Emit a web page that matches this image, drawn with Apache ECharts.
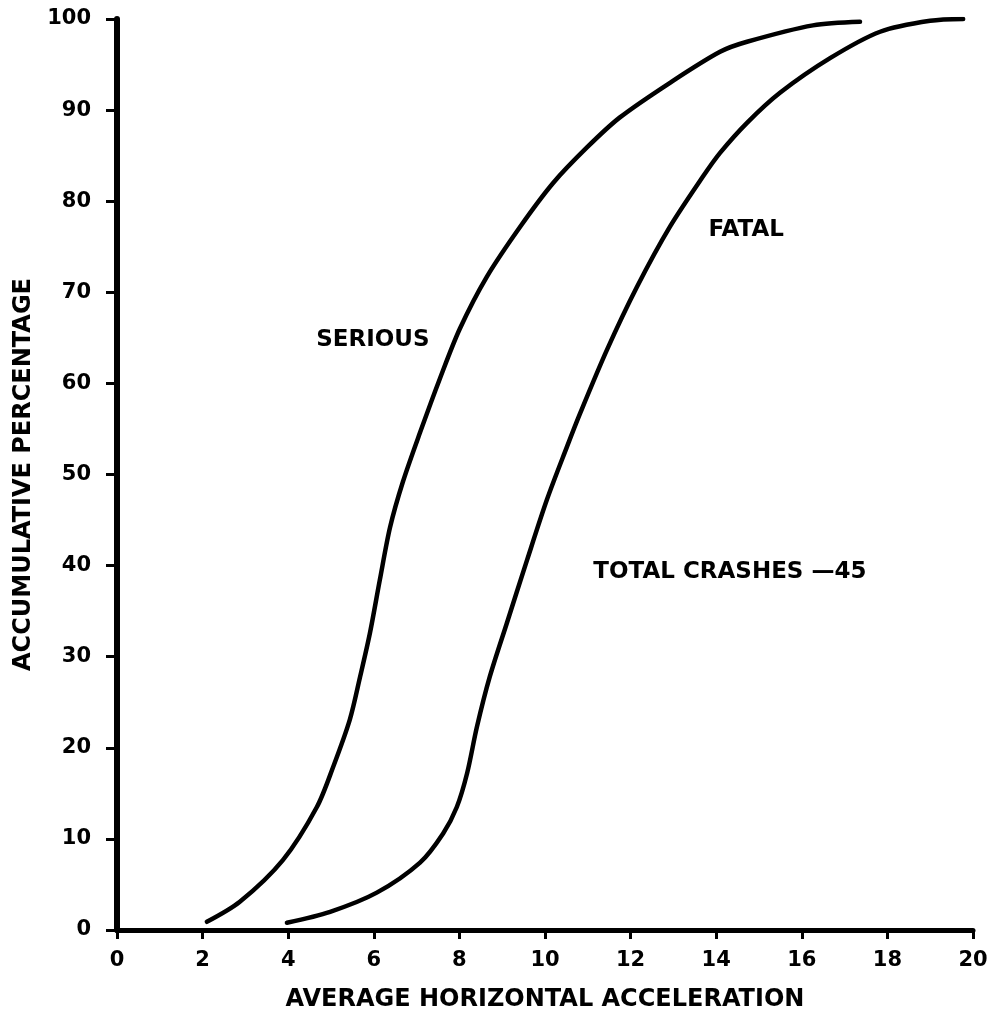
<!DOCTYPE html>
<html>
<head>
<meta charset="utf-8">
<script src="https://cdn.jsdelivr.net/npm/echarts@6/dist/echarts.min.js"></script>
<style>
html,body{margin:0;padding:0;background:#fff;}
#chart{width:995px;height:1027px;}
</style>
</head>
<body>
<div id="chart"></div>
<script>
// Data
const xTicks = [0, 2, 4, 6, 8, 10, 12, 14, 16, 18, 20];
const yTicks = [0, 10, 20, 30, 40, 50, 60, 70, 80, 90, 100];

const seriousX = [2.10, 2.87, 3.88, 4.67, 5.05, 5.44, 5.68, 5.91, 6.14, 6.38, 6.68, 7.08, 7.55, 8.01, 8.64, 9.42, 10.19, 10.98, 11.75, 12.92, 14.09, 14.72, 16.26, 17.36];
const seriousY = [0.9, 3.1, 7.7, 13.5, 17.9, 23.1, 27.8, 32.6, 38.4, 44.2, 49.2, 54.6, 60.6, 66.0, 71.7, 77.2, 82.0, 85.9, 89.2, 93.0, 96.4, 97.5, 99.3, 99.7];

const fatalX = [3.97, 4.98, 6.07, 7.08, 7.62, 7.94, 8.18, 8.41, 8.71, 9.11, 9.58, 10.05, 10.51, 10.82, 11.45, 12.15, 12.92, 13.69, 14.09, 14.72, 15.49, 16.66, 17.83, 19.0, 19.77];
const fatalY = [0.8, 2.0, 4.1, 7.4, 10.6, 13.5, 17.2, 22.3, 27.8, 33.7, 40.6, 47.3, 53.0, 56.7, 63.7, 70.6, 77.2, 82.7, 85.3, 88.6, 91.9, 95.7, 98.6, 99.8, 100];

const noteText = ['SERIOUS', 'FATAL', 'TOTAL CRASHES \u201445'];
const noteX = [5.98, 14.7, 14.32];
const noteY = [64.8, 76.8, 39.3];

const xName = 'AVERAGE HORIZONTAL ACCELERATION';
const yName = 'ACCUMULATIVE PERCENTAGE';

const pairs = (xs, ys) => xs.map((x, i) => [x, ys[i]]);
const font = 'DejaVu Sans';

const chart = echarts.init(document.getElementById('chart'));
chart.setOption({
  animation: false,
  backgroundColor: '#fff',
  grid: { left: 117, right: 22, top: 19, bottom: 97 },
  xAxis: {
    type: 'value', min: 0, max: 20, interval: 2,
    name: xName, nameLocation: 'middle', nameGap: 58,
    nameTextStyle: { color: '#000', fontFamily: font, fontWeight: 'bold', fontSize: 24 },
    axisLine: { lineStyle: { color: '#000', width: 5 } },
    axisTick: { show: true, length: 9, lineStyle: { color: '#000', width: 3 } },
    axisLabel: { color: '#000', fontFamily: font, fontWeight: 'bold', fontSize: 21, margin: 20,
      formatter: v => xTicks.includes(v) ? String(v) : '' },
    splitLine: { show: false }
  },
  yAxis: {
    type: 'value', min: 0, max: 100, interval: 10,
    name: yName, nameLocation: 'middle', nameGap: 81,
    nameTextStyle: { color: '#000', fontFamily: font, fontWeight: 'bold', fontSize: 24 },
    axisLine: { show: true, lineStyle: { color: '#000', width: 6 } },
    axisTick: { show: true, length: 11, lineStyle: { color: '#000', width: 3 } },
    axisLabel: { color: '#000', fontFamily: font, fontWeight: 'bold', fontSize: 21, margin: 26,
      formatter: v => yTicks.includes(v) ? String(v) : '' },
    splitLine: { show: false }
  },
  series: [
    { name: 'SERIOUS', type: 'line', smooth: 0.3, symbol: 'none',
      lineStyle: { color: '#000', width: 4.5, cap: 'round' },
      data: pairs(seriousX, seriousY) },
    { name: 'FATAL', type: 'line', smooth: 0.3, symbol: 'none',
      lineStyle: { color: '#000', width: 4.5, cap: 'round' },
      data: pairs(fatalX, fatalY) },
    { name: 'notes', type: 'scatter', symbolSize: 0, silent: true,
      itemStyle: { color: '#000', opacity: 1 },
      label: { show: true, position: 'inside', color: '#000', opacity: 1, fontFamily: font, fontWeight: 'bold', fontSize: 23,
        formatter: p => noteText[p.dataIndex] },
      data: pairs(noteX, noteY) }
  ]
});
</script>
</body>
</html>
